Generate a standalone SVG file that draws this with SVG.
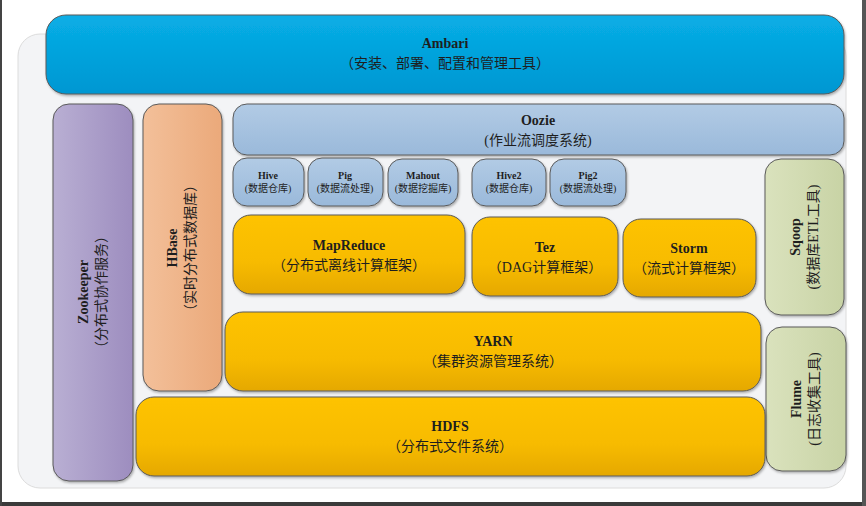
<svg xmlns="http://www.w3.org/2000/svg" width="866" height="506" viewBox="0 0 866 506">
<defs>
<linearGradient id="gBlue" x1="0" y1="0" x2="0" y2="1"><stop offset="0" stop-color="#08aee6"/><stop offset="1" stop-color="#0097d2"/></linearGradient>
<linearGradient id="gLight" x1="0" y1="0" x2="0" y2="1"><stop offset="0" stop-color="#b2cbe5"/><stop offset="1" stop-color="#9ab9da"/></linearGradient>
<linearGradient id="gYel" x1="0" y1="0" x2="0" y2="1"><stop offset="0" stop-color="#fec300"/><stop offset="0.6" stop-color="#f7bb00"/><stop offset="1" stop-color="#e5a806"/></linearGradient>
<linearGradient id="gPur" x1="0" y1="0" x2="1" y2="0"><stop offset="0" stop-color="#b9afd3"/><stop offset="1" stop-color="#9d8dbf"/></linearGradient>
<linearGradient id="gOra" x1="0" y1="0" x2="1" y2="0"><stop offset="0" stop-color="#f3c09a"/><stop offset="1" stop-color="#eba97a"/></linearGradient>
<linearGradient id="gGrn" x1="0" y1="0" x2="1" y2="0"><stop offset="0" stop-color="#dae2bd"/><stop offset="1" stop-color="#c8d3a5"/></linearGradient>
<filter id="sh" x="-5%" y="-5%" width="110%" height="115%"><feDropShadow dx="1" dy="1.5" stdDeviation="1.2" flood-color="#000" flood-opacity="0.3"/></filter>
</defs>
<style>
.box{stroke:#5a5a5a;stroke-width:1;filter:url(#sh)}
.en{font-family:"Liberation Serif","Noto Sans CJK SC",serif;font-weight:bold;fill:#1e1e1e;text-anchor:middle}
.cn{font-family:"Liberation Serif","Noto Sans CJK SC",serif;fill:#1e1e1e;text-anchor:middle}
.t14{font-size:14px}
.c14{font-size:14px}
.t9{font-size:10px}
.c9{font-size:10px}
</style>
<rect x="0" y="0" width="866" height="506" fill="#ffffff"/>
<rect x="18" y="34" width="828" height="454" rx="22" fill="#f3f4f6" stroke="#dcdcdc" stroke-width="1"/>
<rect x="0" y="502" width="866" height="4" fill="#3a3a3a"/>
<rect x="0" y="0" width="2" height="506" fill="#444"/>
<rect x="862" y="0" width="4" height="506" fill="#555"/>

<g id="ambari"><rect class="box" x="46" y="15" width="798" height="79" rx="20" fill="url(#gBlue)"/>
<text class="en t14" x="445" y="48">Ambari</text><text class="cn c14" x="445" y="68">（安装、部署、配置和管理工具）</text></g>

<g id="zookeeper"><rect class="box" x="53" y="104" width="80" height="377" rx="16" fill="url(#gPur)"/>
<g transform="rotate(-90 93 292)"><text class="en t14" x="93" y="287">Zookeeper</text><text class="cn c14" x="93" y="305">（分布式协作服务）</text></g></g>

<g id="hbase"><rect class="box" x="143" y="104" width="79" height="287" rx="16" fill="url(#gOra)"/>
<g transform="rotate(-90 182 248)"><text class="en t14" x="182" y="243">HBase</text><text class="cn c14" x="182" y="261">（实时分布式数据库）</text></g></g>

<g id="oozie"><rect class="box" x="233" y="104" width="611" height="51" rx="14" fill="url(#gLight)"/>
<text class="en t14" x="538" y="125">Oozie</text><text class="cn c14" x="538" y="145">(作业流调度系统)</text></g>

<g id="hive"><rect class="box" x="233" y="158" width="71" height="48" rx="14" fill="url(#gLight)"/>
<text class="en t9" x="268" y="179">Hive</text><text class="cn c9" x="268" y="192">(数据仓库)</text></g>
<g id="pig"><rect class="box" x="308" y="158" width="75" height="48" rx="14" fill="url(#gLight)"/>
<text class="en t9" x="345" y="179">Pig</text><text class="cn c9" x="345" y="192">(数据流处理)</text></g>
<g id="mahout"><rect class="box" x="388" y="159" width="70" height="47" rx="14" fill="url(#gLight)"/>
<text class="en t9" x="423" y="179">Mahout</text><text class="cn c9" x="423" y="192">(数据挖掘库)</text></g>
<g id="hive2"><rect class="box" x="472" y="159" width="74" height="47" rx="14" fill="url(#gLight)"/>
<text class="en t9" x="509" y="179">Hive2</text><text class="cn c9" x="509" y="192">(数据仓库)</text></g>
<g id="pig2"><rect class="box" x="550" y="159" width="76" height="47" rx="14" fill="url(#gLight)"/>
<text class="en t9" x="588" y="179">Pig2</text><text class="cn c9" x="588" y="192">(数据流处理)</text></g>

<g id="sqoop"><rect class="box" x="765" y="159" width="79" height="156" rx="16" fill="url(#gGrn)"/>
<g transform="rotate(-90 805 237)"><text class="en t14" x="805" y="232">Sqoop</text><text class="cn c14" x="805" y="250">(数据库ETL工具)</text></g></g>

<g id="flume"><rect class="box" x="766" y="327" width="80" height="144" rx="16" fill="url(#gGrn)"/>
<g transform="rotate(-90 806 399)"><text class="en t14" x="806" y="394">Flume</text><text class="cn c14" x="806" y="412">(日志收集工具)</text></g></g>

<g id="mapreduce"><rect class="box" x="233" y="215" width="232" height="79" rx="18" fill="url(#gYel)"/>
<text class="en t14" x="349" y="250">MapReduce</text><text class="cn c14" x="349" y="270">（分布式离线计算框架）</text></g>
<g id="tez"><rect class="box" x="472" y="217" width="146" height="79" rx="18" fill="url(#gYel)"/>
<text class="en t14" x="545" y="252">Tez</text><text class="cn c14" x="545" y="272">（DAG计算框架）</text></g>
<g id="storm"><rect class="box" x="623" y="219" width="133" height="78" rx="18" fill="url(#gYel)"/>
<text class="en t14" x="689" y="253">Storm</text><text class="cn c14" x="689" y="273">（流式计算框架）</text></g>

<g id="yarn"><rect class="box" x="225" y="312" width="536" height="79" rx="18" fill="url(#gYel)"/>
<text class="en t14" x="493" y="346">YARN</text><text class="cn c14" x="493" y="366">（集群资源管理系统）</text></g>

<g id="hdfs"><rect class="box" x="136" y="397" width="629" height="79" rx="18" fill="url(#gYel)"/>
<text class="en t14" x="450" y="431">HDFS</text><text class="cn c14" x="450" y="451">（分布式文件系统）</text></g>

<g id="connectors"></g>
</svg>
